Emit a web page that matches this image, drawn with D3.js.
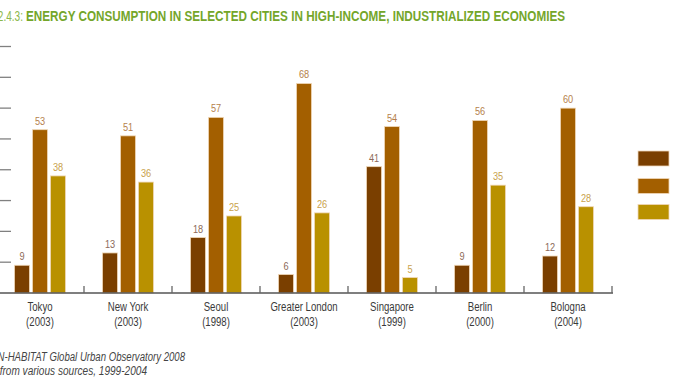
<!DOCTYPE html>
<html><head><meta charset="utf-8">
<script src="https://cdn.jsdelivr.net/npm/d3@7"></script>
<style>
body{margin:0;background:#fff;overflow:hidden}
svg{display:block}
text{font-family:"Liberation Sans","Roboto",sans-serif}
</style></head>
<body>
<svg id="chart" width="678" height="381"></svg>
<script>
const titlePrefix = "FIGURE 2.4.3:";
const titleText = "ENERGY CONSUMPTION IN SELECTED CITIES IN HIGH-INCOME, INDUSTRIALIZED ECONOMIES";
const cities = ["Tokyo","New York","Seoul","Greater London","Singapore","Berlin","Bologna"];
const years = ["(2003)","(2003)","(1998)","(2003)","(1999)","(2000)","(2004)"];
const seriesNames = ["Residential","Commercial/Industrial","Transport"];
const seriesA = [9,13,18,6,41,9,12];
const seriesB = [53,51,57,68,54,56,60];
const seriesC = [38,36,25,26,5,35,28];
const yTicks = [10,20,30,40,50,60,70,80];
const sourceLines = ["Source: UN-HABITAT Global Urban Observatory 2008","Data from various sources, 1999-2004"];

const barColors = ["#7a3f00","#a35f00","#b99100"];
const labelColors = ["#8c6a58","#b57f4c","#c9a24c"];

const svg = d3.select("#chart");
const allSeries = [seriesA, seriesB, seriesC];

const y = d3.scaleLinear().domain([0,80]).range([293, 46.5]);
const x0 = d3.scaleBand().domain(cities).range([-4, 612]).paddingInner(0).paddingOuter(0);
const x1 = d3.scaleBand().domain(seriesNames).range([-25.5, 25.5]).paddingInner(1/6).paddingOuter(0);

function narrow(sel, ratio){
  sel.each(function(){
    const w = this.getComputedTextLength();
    d3.select(this).attr("textLength", w*ratio).attr("lengthAdjust","spacingAndGlyphs");
  });
  return sel;
}

// Title
svg.append("text").attr("x", 23).attr("y", 21).attr("text-anchor","end")
  .attr("font-size", 14).attr("fill","#8bb84a").text(titlePrefix).call(narrow, 0.72);
svg.append("text").attr("x", 26).attr("y", 21)
  .attr("font-size", 14).attr("font-weight","bold").attr("fill","#74a62a").text(titleText)
  .attr("textLength", 539).attr("lengthAdjust","spacingAndGlyphs");

// y ticks (labels cropped)
svg.append("g").selectAll("line").data(yTicks).join("line")
  .attr("x1", 0).attr("x2", 11).attr("y1", d=>y(d)).attr("y2", d=>y(d))
  .attr("stroke","#808080").attr("stroke-width",1.3);

// bars
const groups = svg.append("g").selectAll("g").data(cities).join("g")
  .attr("transform", d => `translate(${x0(d)+x0.bandwidth()/2},0)`);

groups.each(function(city, i){
  const g = d3.select(this);
  seriesNames.forEach((s, k) => {
    const v = allSeries[k][i];
    g.append("rect")
      .attr("x", x1(s)).attr("width", x1.bandwidth())
      .attr("y", y(v)).attr("height", y(0)-y(v))
      .attr("fill", barColors[k]).attr("stroke","#f0d8b8").attr("stroke-width",0.8);
    g.append("text")
      .attr("x", x1(s)+x1.bandwidth()/2).attr("y", y(v)-5)
      .attr("text-anchor","middle").attr("font-size",11.5)
      .attr("fill", labelColors[k]).text(v).call(narrow, 0.8);
  });
  g.append("text").attr("x",0).attr("y",311).attr("text-anchor","middle")
    .attr("font-size",12).attr("fill","#3a3a3a").text(city).call(narrow, 0.8);
  g.append("text").attr("x",0).attr("y",326).attr("text-anchor","middle")
    .attr("font-size",12).attr("fill","#3a3a3a").text(years[i]).call(narrow, 0.8);
});

// baseline
svg.append("line").attr("x1",0).attr("x2",x0.range()[1]+1).attr("y1",y(0)).attr("y2",y(0))
  .attr("stroke","#555").attr("stroke-width",1.3);
// category separator ticks
svg.append("g").selectAll("line").data(cities).join("line")
  .attr("x1", d=>x0(d)+x0.bandwidth()).attr("x2", d=>x0(d)+x0.bandwidth())
  .attr("y1", y(0)).attr("y2", y(0)-7)
  .attr("stroke","#666").attr("stroke-width",1.3);

// legend (labels fall outside the crop)
const legend = svg.append("g").selectAll("g").data(seriesNames).join("g")
  .attr("transform",(d,i)=>`translate(638,${[151,178.5,204.5][i]})`);
legend.append("rect").attr("width",31).attr("height",15)
  .attr("fill",(d,i)=>barColors[i]).attr("stroke","#f0d8b8").attr("stroke-width",0.8);
legend.append("text").attr("x",42).attr("y",11).attr("font-size",12).attr("fill","#444").text(d=>d);

// source
svg.append("text").attr("x",185).attr("y",361).attr("text-anchor","end")
  .attr("font-size",12).attr("font-style","italic").attr("fill","#444").text(sourceLines[0]).call(narrow, 0.8);
svg.append("text").attr("x",147).attr("y",375).attr("text-anchor","end")
  .attr("font-size",12).attr("font-style","italic").attr("fill","#444").text(sourceLines[1]).call(narrow, 0.84);
</script>
</body></html>
